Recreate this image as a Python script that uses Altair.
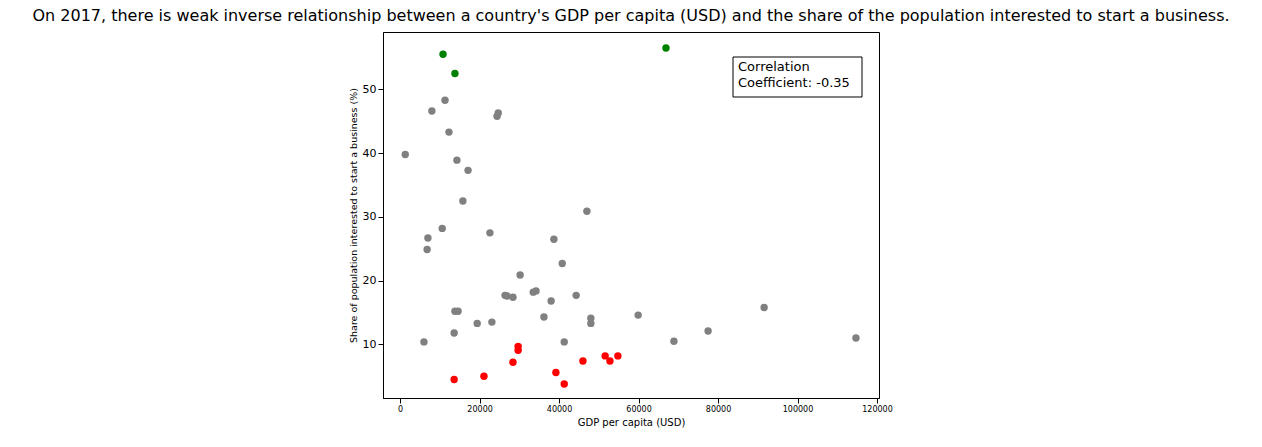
import altair as alt
import pandas as pd

gdp = [1300, 8000, 11300, 12300, 24400, 24700, 14300, 17100, 15800, 7000, 6800, 10600,
       22600, 47000, 38700, 40800, 30200, 26400, 26900, 28400, 33500, 34200, 38000, 44300,
       36200, 48000, 48000, 59900, 77500, 91600, 114700, 68900, 41300, 6000, 13800, 14600,
       19400, 23100, 13600,
       13600, 21100, 29700, 29700, 28400, 39200, 41300, 46000, 51600, 52800, 54800,
       10800, 13800, 66900]
share = [39.8, 46.6, 48.3, 43.3, 45.8, 46.3, 38.9, 37.3, 32.5, 26.7, 24.9, 28.2,
         27.5, 30.9, 26.5, 22.7, 20.9, 17.7, 17.6, 17.4, 18.2, 18.4, 16.8, 17.7,
         14.3, 14.1, 13.3, 14.6, 12.1, 15.8, 11.0, 10.5, 10.4, 10.4, 15.2, 15.2,
         13.3, 13.5, 11.8,
         4.5, 5.0, 9.7, 9.1, 7.2, 5.6, 3.8, 7.4, 8.2, 7.4, 8.2,
         55.5, 52.5, 56.5]
group = ["mid"] * 39 + ["low"] * 11 + ["high"] * 3

df = pd.DataFrame({"gdp": gdp, "share": share, "group": group})
one = pd.DataFrame({"k": [0]})

points = alt.Chart(df).mark_circle(size=55, opacity=1).encode(
    x=alt.X("gdp:Q", scale=alt.Scale(domain=[-4300, 120500], nice=False, zero=False),
            axis=alt.Axis(title="GDP per capita (USD)", values=list(range(0, 120001, 20000)),
                          format="d", labelFontSize=8, titleFontSize=10,
                          titleFontWeight="normal")),
    y=alt.Y("share:Q", scale=alt.Scale(domain=[1.6, 59], nice=False, zero=False),
            axis=alt.Axis(title="Share of population interested to start a business (%)",
                          values=[10, 20, 30, 40, 50], labelFontSize=11,
                          titleFontSize=9.5, titleFontWeight="normal")),
    color=alt.Color("group:N", scale=alt.Scale(domain=["mid", "low", "high"],
                                               range=["grey", "red", "green"]), legend=None),
)

box = alt.Chart(one).mark_rect(fill="white", stroke="black", strokeWidth=1).encode(
    x=alt.value(350), x2=alt.value(479), y=alt.value(25), y2=alt.value(65))
label = alt.Chart(one).mark_text(align="left", baseline="top", fontSize=13,
                                 lineHeight=16, color="black", font="DejaVu Sans").encode(
    x=alt.value(355), y=alt.value(29),
    text=alt.value(["Correlation", "Coefficient: -0.35"]))

chart = (points + box + label).properties(
    width=496, height=366,
    title=alt.Title("On 2017, there is weak inverse relationship between a country's GDP per capita (USD) and the share of the population interested to start a business.",
                    fontSize=16, fontWeight="normal", anchor="middle", offset=8),
    autosize=alt.AutoSizeParams(type="none"),
    padding={"left": 375, "top": 24, "right": 375, "bottom": 40},
).configure_axis(grid=False, domainColor="black", tickColor="black",
                 labelColor="black", titleColor="black",
                 labelFont="DejaVu Sans", titleFont="DejaVu Sans"
).configure_view(stroke="black", strokeWidth=1
).configure_title(font="DejaVu Sans", color="black")

chart.save("out.html", embed_options={"renderer": "svg", "actions": False})
